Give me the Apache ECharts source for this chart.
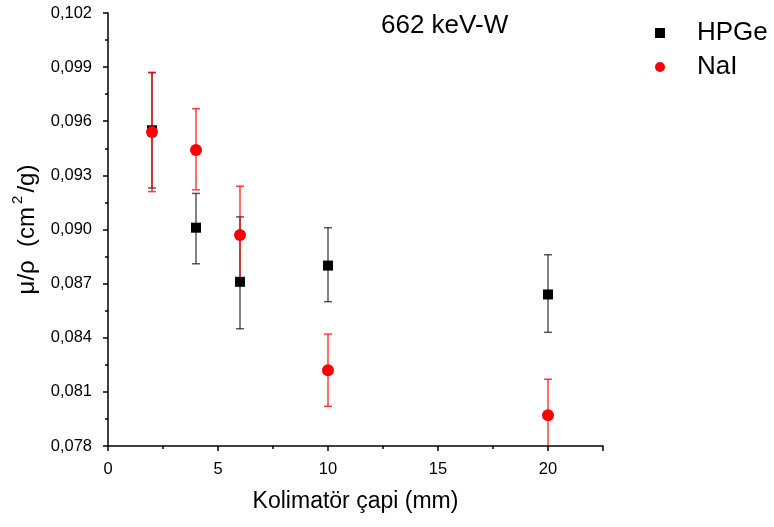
<!DOCTYPE html>
<html>
<head>
<meta charset="utf-8">
<script src="https://cdn.jsdelivr.net/npm/echarts@6/dist/echarts.min.js"></script>
<style>
  html, body { margin: 0; padding: 0; background: #fff; }
  #chart { width: 774px; height: 527px; }
</style>
</head>
<body>
<div id="chart"></div>
<script>
// kolimatör çapi (mm)
var diameters = [2, 4, 6, 10, 20]
// HPGe
var hpgeValues = [0.0955, 0.0901, 0.0871, 0.0880, 0.0864]
var hpgeLow = [0.0923, 0.0881, 0.0845, 0.0860, 0.0843]
var hpgeHigh = [0.0987, 0.0920, 0.0907, 0.0901, 0.0886]
// NaI
var naiValues = [0.0954, 0.0944, 0.0897, 0.0822, 0.0797]
var naiLow = [0.0921, 0.0922, 0.0869, 0.0802, 0.0777]
var naiHigh = [0.0987, 0.0967, 0.0924, 0.0842, 0.0817]

var font = 'Liberation Sans, Arial, sans-serif'

function points(xs, ys) {
  return xs.map(function (x, i) { return [x, ys[i]] })
}
function bars(xs, lo, hi) {
  return xs.map(function (x, i) { return [x, lo[i], hi[i]] })
}

// hata çubukları
function errorBar(color) {
  return function (params, api) {
    var top = api.coord([api.value(0), api.value(2)])
    var bottom = api.coord([api.value(0), api.value(1)])
    var w = 4
    var style = { stroke: color, lineWidth: 1.5 }
    return {
      type: 'group',
      children: [
        { type: 'line', shape: { x1: top[0], y1: top[1], x2: bottom[0], y2: bottom[1] }, style: style },
        { type: 'line', shape: { x1: top[0] - w, y1: top[1], x2: top[0] + w, y2: top[1] }, style: style },
        { type: 'line', shape: { x1: bottom[0] - w, y1: bottom[1], x2: bottom[0] + w, y2: bottom[1] }, style: style }
      ]
    }
  }
}

var myChart = echarts.init(document.getElementById('chart'))
var option = {
  backgroundColor: '#fff',
  animation: false,
  grid: { left: 108, right: 171, top: 13, bottom: 81 },
  title: {
    text: '662 keV-W',
    left: 376,
    top: 8,
    textStyle: { fontFamily: font, fontSize: 26, fontWeight: 'normal', color: '#000' }
  },
  legend: {
    data: ['HPGe', 'NaI'],
    orient: 'vertical',
    left: 655,
    top: 19,
    padding: 0,
    itemGap: 6,
    itemWidth: 10,
    itemHeight: 10,
    textStyle: { fontFamily: font, fontSize: 26, lineHeight: 28, color: '#000', padding: [0, 0, 0, 27] }
  },
  xAxis: {
    type: 'value',
    min: 0,
    max: 22.5,
    interval: 5,
    name: 'Kolimatör çapi (mm)',
    nameLocation: 'middle',
    nameGap: 44,
    nameTextStyle: { fontFamily: font, fontSize: 23, color: '#000' },
    axisLine: { lineStyle: { color: '#000', width: 1.5 } },
    axisTick: { inside: false, length: 5, lineStyle: { color: '#000', width: 1.5 } },
    minorTick: { show: true, splitNumber: 2, length: 3, lineStyle: { color: '#000', width: 1.5 } },
    axisLabel: {
      fontFamily: font, fontSize: 16.5, color: '#000', margin: 15,
      formatter: function (v) { return v % 5 === 0 ? String(v) : '' }
    },
    splitLine: { show: false }
  },
  yAxis: {
    type: 'value',
    min: 0.078,
    max: 0.102,
    interval: 0.003,
    name: 'μ/ρ  (cm{sup|2}/g)',
    nameLocation: 'middle',
    nameRotate: 90,
    nameGap: 61,
    nameTextStyle: {
      fontFamily: font, fontSize: 24, color: '#000',
      rich: { sup: { fontFamily: font, fontSize: 15, color: '#000', verticalAlign: 'top', padding: [0, 3, 19, 3] } }
    },
    axisLine: { show: true, lineStyle: { color: '#000', width: 1.5 } },
    axisTick: { show: true, length: 5, lineStyle: { color: '#000', width: 1.5 } },
    minorTick: { show: true, splitNumber: 2, length: 3, lineStyle: { color: '#000', width: 1.5 } },
    axisLabel: {
      fontFamily: font, fontSize: 16.5, color: '#000', margin: 16,
      formatter: function (v) { return v.toFixed(3).replace('.', ',') }
    },
    splitLine: { show: false }
  },
  series: [
    {
      type: 'custom',
      clip: true,
      renderItem: errorBar('rgba(0,0,0,0.65)'),
      data: bars(diameters, hpgeLow, hpgeHigh),
      z: 1
    },
    {
      type: 'custom',
      clip: true,
      renderItem: errorBar('rgba(255,0,0,0.75)'),
      data: bars(diameters, naiLow, naiHigh),
      z: 2
    },
    {
      name: 'HPGe',
      type: 'scatter',
      symbol: 'rect',
      symbolSize: 10,
      itemStyle: { color: '#000', opacity: 1 },
      data: points(diameters, hpgeValues),
      z: 3
    },
    {
      name: 'NaI',
      type: 'scatter',
      symbol: 'circle',
      symbolSize: 12,
      itemStyle: { color: '#ff0000', opacity: 1 },
      data: points(diameters, naiValues),
      z: 4
    }
  ]
}
myChart.setOption(option)
</script>
</body>
</html>
